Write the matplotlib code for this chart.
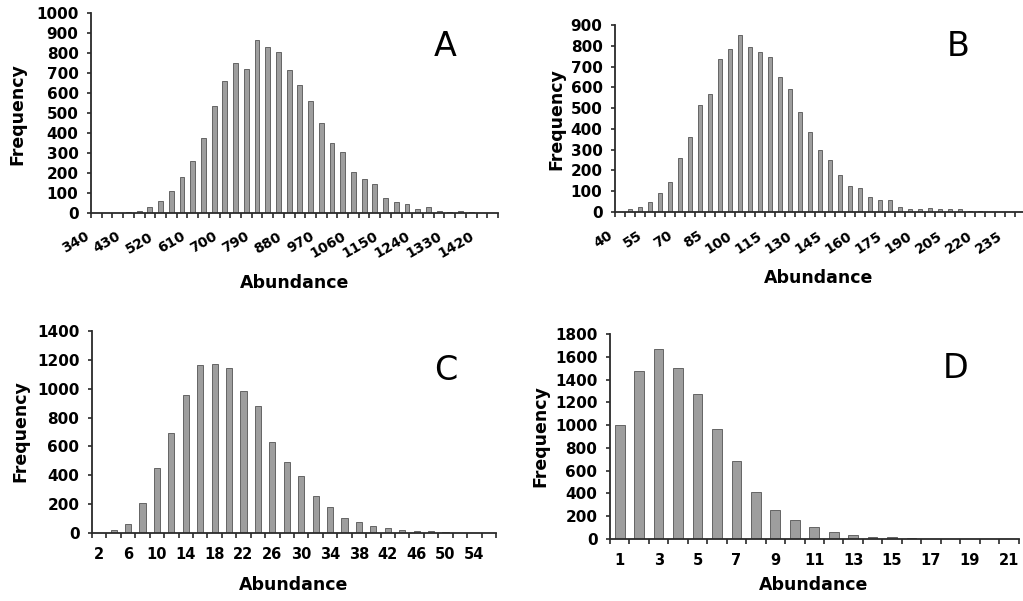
import matplotlib
matplotlib.use('Agg')
import matplotlib.pyplot as plt
import numpy as np
from matplotlib.transforms import ScaledTranslation

W, H, DPI = 1023, 601, 100

# ---------------- data ----------------
a_categories = list(range(340, 1451, 30))
a_values = [1, 1, 2, 3, 10, 32, 62, 108, 180, 258, 375, 535, 662, 752, 718,
            865, 828, 807, 715, 638, 562, 448, 352, 303, 207, 170, 145, 77,
            53, 43, 20, 28, 8, 6, 8, 3, 2, 1]
a_tick_labels = ['340', '430', '520', '610', '700', '790', '880', '970',
                 '1060', '1150', '1240', '1330', '1420']

b_categories = list(range(40, 246, 5))
b_values = [2, 13, 22, 48, 93, 144, 258, 360, 514, 567, 735, 783, 852, 796,
            770, 748, 648, 590, 480, 387, 298, 249, 180, 124, 114, 74, 56, 56,
            24, 14, 14, 21, 14, 13, 13, 5, 3, 2, 1, 1, 1, 0]
b_tick_labels = ['40', '55', '70', '85', '100', '115', '130', '145', '160',
                 '175', '190', '205', '220', '235']

c_categories = list(range(2, 57, 2))
c_values = [2, 23, 62, 207, 449, 696, 956, 1163, 1170, 1147, 986, 882, 634,
            491, 396, 253, 180, 106, 78, 51, 32, 21, 14, 14, 5, 3, 2, 2]
c_tick_labels = ['2', '6', '10', '14', '18', '22', '26', '30', '34', '38',
                 '42', '46', '50', '54']

d_categories = list(range(1, 22))
d_values = [997, 1472, 1671, 1501, 1270, 965, 689, 416, 252, 167, 103, 59,
            38, 20, 20, 5, 3, 2, 1, 0, 0]
d_tick_labels = ['1', '3', '5', '7', '9', '11', '13', '15', '17', '19', '21']

panel_letters = ['A', 'B', 'C', 'D']
x_title = 'Abundance'
y_title = 'Frequency'

# ---------------- figure ----------------
plt.rcParams['font.family'] = ['DejaVu Sans']
fig = plt.figure(figsize=(W / DPI, H / DPI), dpi=DPI)
fig.patch.set_facecolor('white')

BAR_FACE = '#9e9e9e'
BAR_EDGE = '#646464'
AX_COL = '#2a2a2a'


def px_axes(left, right, top, bottom):
    return fig.add_axes([left / W, 1 - bottom / H, (right - left) / W,
                         (bottom - top) / H])


def panel(box, cats, vals, labels, ymax, ystep, rot, lab_dx, lab_dy, bw):
    ax = px_axes(*box)
    n = len(cats)
    x = np.arange(1, n + 1)
    ax.bar(x, vals, width=bw, color=BAR_FACE, edgecolor=BAR_EDGE,
           linewidth=0.7, zorder=2)
    ax.set_xlim(0.5, n + 0.5)
    ax.set_ylim(0, ymax)
    for s in ['top', 'right']:
        ax.spines[s].set_visible(False)
    for s in ['left', 'bottom']:
        ax.spines[s].set_color(AX_COL)
        ax.spines[s].set_linewidth(1.3)
    ax.set_xticks(np.arange(0.5, n + 1, 1.0))
    ax.set_xticklabels([])
    ax.tick_params(axis='x', which='major', length=3.6, width=1.2,
                   color=AX_COL, direction='out')
    ax.set_yticks(np.arange(0, ymax + 1, ystep))
    ax.set_yticklabels([str(v) for v in np.arange(0, ymax + 1, ystep)],
                       fontsize=11, fontweight='bold')
    ax.tick_params(axis='y', length=3, width=1.2, color=AX_COL, pad=6)
    lab_str = [str(c) for c in cats]
    trans = ax.get_xaxis_transform() + ScaledTranslation(
        lab_dx / DPI, -lab_dy / DPI, fig.dpi_scale_trans)
    for lab in labels:
        idx = lab_str.index(lab) + 1
        if rot:
            ax.text(idx, 0, lab, transform=trans, rotation=rot, ha='right',
                    va='center', rotation_mode='anchor', fontsize=10,
                    fontweight='bold', clip_on=False)
        else:
            ax.text(idx, 0, lab, transform=trans, ha='center', va='top',
                    fontsize=10.5, fontweight='bold', clip_on=False)
    return ax


panel((91, 498, 13, 213), a_categories, a_values, a_tick_labels,
      1000, 100, 30, -8.5, 22.5, 0.45)
panel((615, 1035, 25, 212), b_categories, b_values, b_tick_labels,
      900, 100, 33, -9, 22.5, 0.47)
panel((92, 496, 331, 533), c_categories, c_values, c_tick_labels,
      1400, 200, 0, 0, 14, 0.43)
panel((610, 1018.5, 334, 539), d_categories, d_values, d_tick_labels,
      1800, 200, 0, 0, 14, 0.5)


def ftext(x, y, s, **kw):
    fig.text(x / W, 1 - y / H, s, ha='center', va='center', **kw)


for (xx, yy) in [(295, 283), (819, 278), (294, 585), (814, 585)]:
    ftext(xx, yy, x_title, fontsize=12.5, fontweight='bold')
for (xx, yy) in [(17, 114), (556, 119), (20, 431), (540, 436)]:
    ftext(xx, yy, y_title, fontsize=12.5, fontweight='bold', rotation=90)
for (xx, yy), letter in zip([(445, 47), (958, 46), (446, 370), (956, 368)],
                            panel_letters):
    ftext(xx, yy, letter, fontsize=24)

fig.savefig('out.png', dpi=DPI, facecolor='white')
